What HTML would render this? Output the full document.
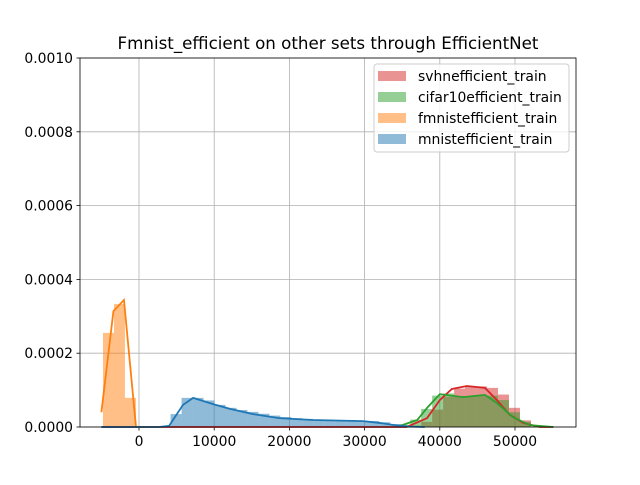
<!DOCTYPE html>
<html><head><meta charset="utf-8"><style>body{margin:0;background:#fff}svg text{font-family:"DejaVu Sans","Liberation Sans",sans-serif}</style></head>
<body>
<svg id="c" width="640" height="480"></svg>
<script>
const xTicks=[0,10000,20000,30000,40000,50000];
const yTicks=[0,0.0002,0.0004,0.0006,0.0008,0.001];
const yTickLabels=["0.0000","0.0002","0.0004","0.0006","0.0008","0.0010"];
const binW=1460;
const orangeBins=[-4790,-3330,-1870];
const orangeHist=[255,333,79];
const blueBins=[4200,5660,7120,8580,10040,11500,12960,14420,15880,17340,18800,20260,21720,23180,24640,26100,27560,29020,30480,31940,33400];
const blueHist=[35,79,79,72,60,52,46,41,36,31,27,24,22,20,19,18,17,17,16,13,8];
const greenBins=[34600,36060,37520,38980,40440,41900,43360,44820,46280,47740,49200,50660];
const greenHist=[6,20,49,85,91,84,83,84,85,73,40,14];
const redBins=[36060,37520,38980,40440,41900,43360,44820,46280,47740,49200,50660];
const redHist=[4,14,47,82,104,111,110,106,88,52,18];
const orangeLineX=[-5000,-3400,-2000,-400,3000];
const orangeLineY=[40,314,344,0,0];
const blueLineX=[-5000,2660,4000,5850,7200,9850,12100,15160,18600,23100,29800,32000,34000,36000,38000];
const blueLineY=[0,0,3,60,79,62,49,35,24,19,16,11,5,1,0];
const greenLineX=[34700,37000,38400,40000,43100,46000,47600,49700,52000,55100];
const greenLineY=[3,19,54,89,81,87,65,27,5,0];
const redLineX=[-5000,35600,38300,40000,41600,43600,46000,47600,49300,51100,53300,55100];
const redLineY=[0,0,24,73,103,111,106,73,33,11,0,0];
const L=80,R=576,T=58,B=427;
const sx=v=>139+(v/10000)*75.2;
const sy=v=>B-(v/0.001)*(B-T);
const S=1e-6;
const svg=document.getElementById('c');
const NS='http://www.w3.org/2000/svg';
function mk(t,a,p){const e=document.createElementNS(NS,t);for(const k in a)e.setAttribute(k,a[k]);(p||svg).appendChild(e);return e;}
let e;
e=mk('rect',{x:L,y:T,width:R-L,height:B-T,fill:'#fff'});


xTicks.forEach(v=>{e=mk('line',{x1:sx(v),x2:sx(v),y1:T,y2:B,stroke:'#b0b0b0','stroke-width':0.8});


mk('line',{x1:sx(v),x2:sx(v),y1:B,y2:B+3.5,stroke:'#000','stroke-width':0.8});
e=mk('text',{x:sx(v),y:B+19,'font-size':13.9,'text-anchor':'middle'});e.textContent=v;

});
yTicks.forEach((v,i)=>{e=mk('line',{x1:L,x2:R,y1:sy(v),y2:sy(v),stroke:'#b0b0b0','stroke-width':0.8});


mk('line',{x1:L-3.5,x2:L,y1:sy(v),y2:sy(v),stroke:'#000','stroke-width':0.8});
e=mk('text',{x:L-7,y:sy(v)+5,'font-size':13.9,'text-anchor':'end'});e.textContent=yTickLabels[i];

});
function hist(bins,vals,col,name){bins.forEach((b,i)=>{const y=sy(vals[i]*S);e=mk('rect',{x:sx(b),y:y,width:sx(b+binW)-sx(b),height:B-y,fill:col,'fill-opacity':0.5});

});}
hist(redBins,redHist,'#d62728','svhn-hist-bar');
hist(greenBins,greenHist,'#2ca02c','cifar10-hist-bar');
hist(orangeBins,orangeHist,'#ff7f0e','fmnist-hist-bar');
hist(blueBins,blueHist,'#1f77b4','mnist-hist-bar');
function line(xs,ys,col,name){const d=xs.map((x,i)=>(i?'L':'M')+Math.max(L,Math.min(R,sx(x)))+','+sy(ys[i]*S)).join('');e=mk('path',{d:d,fill:'none',stroke:col,'stroke-width':1.8});

}
line(redLineX,redLineY,'#d62728','svhn-kde-line');
line(greenLineX,greenLineY,'#2ca02c','cifar10-kde-line');
line(orangeLineX,orangeLineY,'#ff7f0e','fmnist-kde-line');
line(blueLineX,blueLineY,'#1f77b4','mnist-kde-line');
e=mk('rect',{x:L,y:T,width:R-L,height:B-T,fill:'none',stroke:'#000','stroke-width':0.8});


e=mk('text',{x:328,y:49,'font-size':16.7,'text-anchor':'middle'});e.textContent='Fmnist_efficient on other sets through EfficientNet';


const lg=mk('g',{});


mk('rect',{x:374,y:64,width:195,height:88,rx:3,fill:'#fff','fill-opacity':0.8,stroke:'#ccc'},lg);
const names=['svhnefficient_train','cifar10efficient_train','fmnistefficient_train','mnistefficient_train'];
const cols=['#d62728','#2ca02c','#ff7f0e','#1f77b4'];
names.forEach((n,i)=>{const y=76+i*21;
e=mk('rect',{x:378,y:y-5,width:28,height:10,fill:cols[i],'fill-opacity':0.5},lg);


e=mk('text',{x:418,y:y+5,'font-size':13.9},lg);e.textContent=n;

});
</script>
</body></html>
